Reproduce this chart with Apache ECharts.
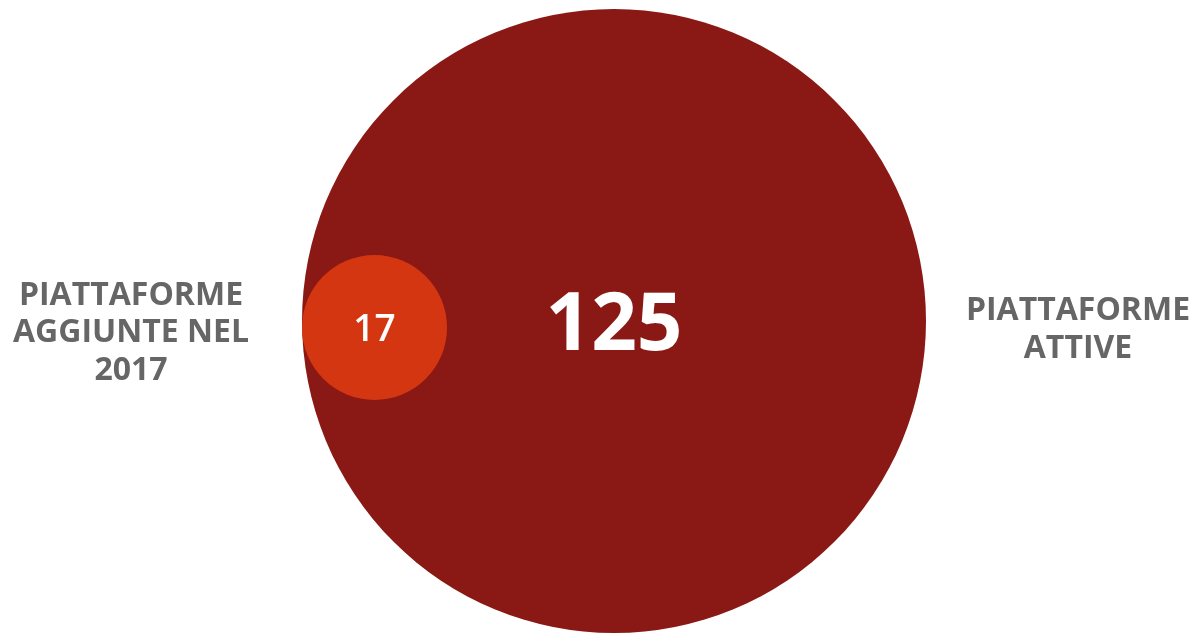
<!DOCTYPE html>
<html>
<head>
<meta charset="utf-8">
<script src="https://cdn.jsdelivr.net/npm/echarts@6/dist/echarts.min.js"></script>
<style>
  html, body { margin: 0; padding: 0; background: #fff; }
  #chart { width: 1194px; height: 633px; }
</style>
</head>
<body>
<div id="chart"></div>
<script>
// chart values
const circleNames = ['PIATTAFORME\nATTIVE', 'PIATTAFORME\nAGGIUNTE NEL\n2017'];
const circleValues = [125, 17];

// layout (pixel space of the canvas)
const circleCenters = [[614, 321], [374.5, 327.5]];
const circleSizes = [624, 145];
const circleColors = ['#8a1814', '#d43611'];
const labelCenters = [[1078, 330], [131, 333]];

let chart = echarts.init(document.getElementById('chart'), null, { renderer: 'canvas' });

const circleData = circleValues.map((v, i) => ({
    name: circleNames[i],
    value: [circleCenters[i][0], circleCenters[i][1], v],
    symbolSize: circleSizes[i],
    itemStyle: { color: circleColors[i], opacity: 1 },
    label: i === 0
        ? { fontSize: 80, fontWeight: 'bold', offset: [0, 6] }
        : { fontSize: 37, fontWeight: 600, offset: [0, 3] }
}));

const nameData = circleNames.map((n, i) => ({
    name: n,
    value: labelCenters[i]
}));

chart.setOption({
    animation: false,
    grid: { left: 0, right: 0, top: 0, bottom: 0 },
    xAxis: { type: 'value', min: 0, max: 1194, show: false },
    yAxis: { type: 'value', min: 0, max: 633, inverse: true, show: false },
    series: [
        {
            type: 'scatter',
            symbol: 'circle',
            data: circleData,
            itemStyle: { opacity: 1 },
            label: {
                show: true,
                position: 'inside',
                color: '#fff',
                opacity: 1,
                fontFamily: 'Open Sans',
                formatter: p => p.value[2]
            },
            emphasis: { disabled: true }
        },
        {
            type: 'scatter',
            symbolSize: 0,
            data: nameData,
            itemStyle: { opacity: 1 },
            label: {
                show: true,
                position: 'inside',
                align: 'center',
                verticalAlign: 'middle',
                color: '#666666',
                opacity: 1,
                fontFamily: 'Open Sans',
                fontWeight: 'bold',
                fontSize: 32,
                lineHeight: 37.5,
                formatter: p => p.name
            },
            emphasis: { disabled: true }
        }
    ]
});
</script>
</body>
</html>
